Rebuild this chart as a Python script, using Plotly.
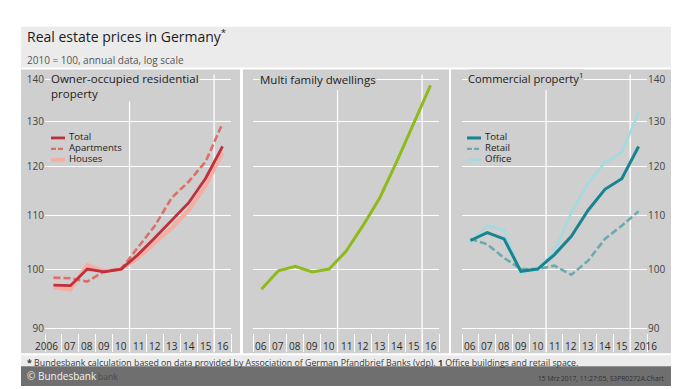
import math
import plotly.graph_objects as go

W, H = 678, 389
FONT = "Open Sans"
TXT = "#2b2b2b"

years = list(range(2006, 2017))
first_labels = ["2006", "07", "08", "09", "10", "11", "12", "13", "14", "15", "16"]
middle_labels = ["06", "07", "08", "09", "10", "11", "12", "13", "14", "15", "16"]
last_labels = ["06", "07", "08", "09", "10", "11", "12", "13", "14", "15", "2016"]
y_ticks = [90, 100, 110, 120, 130, 140]

res_total = [97.2, 97.1, 100.0, 99.5, 100.0, 102.6, 105.7, 109.0, 112.5, 117.5, 124.3]
res_apartments = [98.5, 98.4, 97.8, 99.6, 100.0, 104.0, 108.0, 113.5, 116.8, 121.0, 129.5]
res_houses = [96.8, 96.5, 100.7, 99.6, 100.0, 102.0, 104.8, 107.6, 111.0, 116.0, 123.0]
multi_family = [96.5, 99.7, 100.5, 99.5, 100.0, 103.2, 108.0, 113.5, 121.0, 129.5, 138.5]
com_total = [105.2, 106.7, 105.5, 99.6, 100.0, 102.6, 106.0, 111.0, 115.2, 117.4, 124.3]
com_retail = [105.5, 104.5, 102.0, 100.0, 100.0, 100.6, 99.0, 101.5, 105.5, 108.0, 110.8]
com_office = [104.8, 108.0, 107.2, 99.3, 100.0, 103.2, 110.5, 116.5, 120.8, 123.0, 132.0]

RED, SALMON, PINK = "#bf2f3c", "#dc7068", "#f4aea2"
GREEN = "#8fba1c"
TEAL, TEAL_MID, TEAL_LIGHT = "#17848f", "#6aabad", "#a3dbe0"
PANEL, BAND = "#cfcfcf", "#ebebeb"


def px(x):
    return x / W


def py(y):
    return 1 - y / H


# Vertical scale: 140 sits at y=77 and 90 at y=328
TOP, BOTTOM = 72, 352
k = (math.log10(140) - math.log10(90)) / (328 - 77)
y_range = [math.log10(90) - (BOTTOM - 328) * k, math.log10(140) + (77 - TOP) * k]

fig = go.Figure()
annotations = []


def text(x, y, s, size, color=TXT, anchor="left", bg=None, xref="paper", align="left"):
    annotations.append(dict(x=px(x) if xref == "paper" else x, y=py(y), xref=xref, yref="paper",
                            text=s, showarrow=False, xanchor=anchor, yanchor="middle", align=align,
                            font=dict(family=FONT, size=size, color=color),
                            bgcolor=bg, borderpad=0))


def style_axes(n, left, right, labels):
    bounds = [y - 0.5 for y in years] + [2016.5]
    fig.update_layout({
        f"xaxis{n}": dict(
            domain=[px(left), px(right)], range=[2005.5, 2016.5], anchor=f"y{n}",
            tickmode="array", tickvals=years, showticklabels=False,
            ticks="", showgrid=False, zeroline=False, showline=False,
            minor=dict(tickmode="array", tickvals=bounds, ticks="inside", ticklen=18,
                       tickcolor="white", tickwidth=1, showgrid=False),
        ),
        f"yaxis{n}": dict(
            domain=[py(BOTTOM), py(TOP)], range=y_range, type="log", anchor=f"x{n}",
            tickmode="array", tickvals=y_ticks, ticktext=[str(v) for v in y_ticks],
            showgrid=True, gridcolor="white", gridwidth=1.3, zeroline=False, showline=False,
            ticks="", side="right" if n == 3 else "left", showticklabels=n != 2,
            tickfont=dict(family=FONT, size=10, color="#444444"),
        ),
    })
    ref = "x" if n == 1 else f"x{n}"
    for year, label in zip(years, labels):
        anchor = "right" if label == "2006" else ("left" if label == "2016" else "center")
        pos = year + 0.32 if label == "2006" else (year - 0.32 if label == "2016" else year)
        text(pos, 345.5, label, 10, anchor=anchor, xref=ref)


def add_line(n, name, values, color, width, dash="solid"):
    fig.add_trace(go.Scatter(
        x=years, y=values, mode="lines", name=name, xaxis=f"x{n}", yaxis=f"y{n}",
        showlegend=False, line=dict(color=color, width=width, dash=dash),
    ))


add_line(1, "Houses", res_houses, PINK, 4.2)
add_line(1, "Apartments", res_apartments, SALMON, 2.6, "7px,3px")
add_line(1, "Total", res_total, RED, 2.8)
add_line(2, "Multi family dwellings", multi_family, GREEN, 3)
add_line(3, "Office", com_office, TEAL_LIGHT, 2.6)
add_line(3, "Retail", com_retail, TEAL_MID, 2.6, "7px,3px")
add_line(3, "Total", com_total, TEAL, 3)

style_axes(1, 45, 231, first_labels)
style_axes(2, 253, 439, middle_labels)
style_axes(3, 462, 647, last_labels)

shapes = []


def rect(x0, y0, x1, y1, color, opacity=1.0, layer="below"):
    shapes.append(dict(type="rect", xref="paper", yref="paper", x0=px(x0), x1=px(x1),
                       y0=py(y1), y1=py(y0), fillcolor=color, line_width=0,
                       opacity=opacity, layer=layer))


rect(21, 24, 671, 65, BAND)
rect(21, 67, 240, 353, PANEL)
rect(243, 67, 449, 353, PANEL)
rect(451, 67, 671, 353, PANEL)
rect(21, 355, 671, 366, BAND)
rect(21, 366, 671, 386, "#6f6f6f", layer="above")

for n in ("", "2", "3"):
    for year, top in ((2010.5, 88), (2015.5, TOP)):
        shapes.append(dict(type="line", xref=f"x{n}", yref="paper", x0=year, x1=year,
                           y0=py(BOTTOM), y1=py(top), line=dict(color="white", width=1.3),
                           layer="below"))


def legend_row(x, y, label, color, width, dash="solid", bg=None):
    shapes.append(dict(type="line", xref="paper", yref="paper", x0=px(x), x1=px(x + 14),
                       y0=py(y), y1=py(y), line=dict(color=color, width=width, dash=dash),
                       layer="above"))
    text(x + 17, y - 1, label, 9.6, color="#222222", bg=bg)


text(26, 33, "Real estate prices in Germany<sup>*</sup>", 14, "#1c1c1c")
text(26, 57, "2010 = 100, annual data, log scale", 10, "#555555")
text(50, 83.5, "Owner-occupied residential<br>property", 11.5, "#222222", bg=PANEL)
text(259, 77.5, "Multi family dwellings", 11.5, "#222222", bg=PANEL)
text(467, 76, "Commercial property<sup>1</sup>", 11.2, "#222222", bg=PANEL)

legend_row(51, 158, "Houses", PINK, 4, bg=PANEL)
legend_row(51, 147, "Apartments", SALMON, 2.4, "5px,2px")
legend_row(51, 136, "Total", RED, 2.8)
legend_row(467, 158, "Office", TEAL_LIGHT, 2.4, bg=PANEL)
legend_row(467, 147, "Retail", TEAL_MID, 2.4, "5px,2px")
legend_row(467, 136, "Total", TEAL, 3)

text(26, 363,
     "<b>*</b> Bundesbank calculation based on data provided by Association of German "
     "Pfandbrief Banks (vdp). <b>1</b> Office buildings and retail space.", 8.8, "#3a3a3a")
text(97, 377, "bank", 8.6, "#4b4b4b")
text(26, 376, "© Bundesbank", 10, "#f2f2f2")
text(665, 378, "15 Mrz 2017, 11:27:05, S3PR0272A.Chart", 6.7, "#2f2f2f", anchor="right")

fig.update_layout(
    width=W, height=H, margin=dict(l=0, r=0, t=0, b=0), autosize=False,
    paper_bgcolor="white", plot_bgcolor="rgba(0,0,0,0)", showlegend=False,
    shapes=shapes, annotations=annotations,
)
fig.write_html("out.html", config={"displayModeBar": False},
               post_script="document.body.style.margin='0';document.documentElement.style.overflow='hidden';")
